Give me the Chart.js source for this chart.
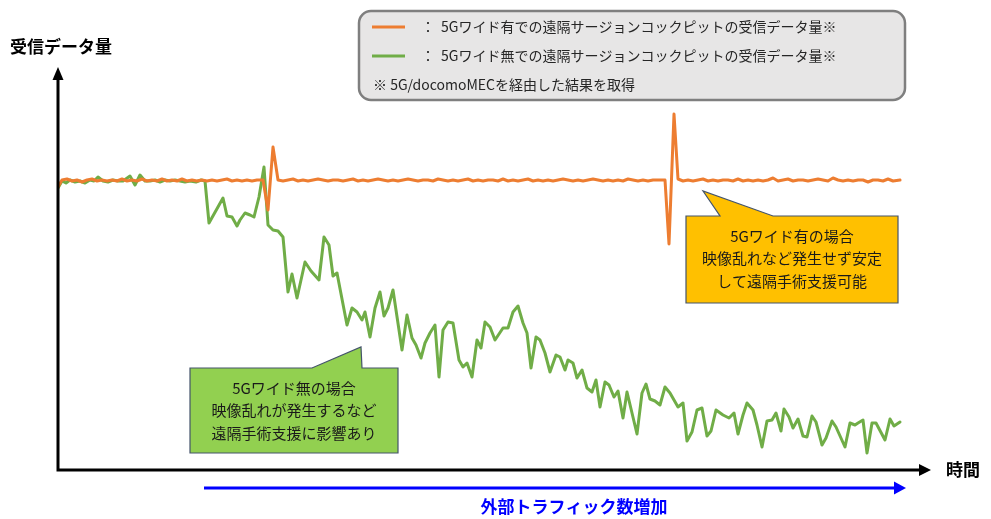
<!DOCTYPE html>
<html lang="ja">
<head>
<meta charset="UTF-8">
<title>受信データ量</title>
<script src="https://cdn.jsdelivr.net/npm/chart.js"></script>
<style>
  body { margin: 0; background: #fff; }
  #wrap { width: 991px; height: 519px; }
</style>
</head>
<body>
<div id="wrap"><canvas id="chart" width="991" height="519"></canvas></div>
<script>
// 時間(t) と 受信データ量(v) ... 図から読み取った値
var withWideT = [0,4,9,14,19,24,29,34,39,44,49,54,59,64,69,74,79,84,89,94,99,104,109,114,119,124,129,134,139,144,149,154,159,164,169,174,179,184,189,194,199,205,210,215,220,225,230,235,240,245,250,255,260,265,270,275,280,285,290,295,300,305,310,315,320,325,330,335,340,345,350,355,360,365,370,375,380,385,390,395,400,405,410,415,420,425,430,435,440,445,450,455,460,465,470,475,480,485,490,495,500,505,510,515,520,525,530,535,540,545,550,555,560,565,570,575,580,585,590,595,600,607,611,616,620,625,630,635,640,645,650,655,660,665,670,675,680,685,690,695,700,705,710,715,720,725,730,735,740,745,750,755,760,765,770,775,780,785,790,795,800,805,810,815,820,825,830,835,842];
var withWideV = [283,290,291,289,290,288,290,291,289,290,289,290,289,291,289,290,289,291,289,290,289,291,289,290,289,291,289,290,289,290,289,290,289,290,291,289,290,289,290,289,290,290,260,323,290,289,290,291,289,290,289,290,291,290,289,290,290,289,290,291,289,290,289,290,291,290,289,290,289,290,291,290,289,290,290,289,291,290,289,290,289,290,291,289,290,289,290,290,289,291,289,290,289,290,291,289,290,289,290,289,290,291,290,289,290,289,290,291,290,289,290,289,290,289,291,290,289,290,289,290,290,290,226,356,291,289,290,289,290,291,289,290,289,290,290,289,291,289,290,289,290,289,290,292,289,290,291,289,290,290,289,290,291,290,289,292,290,289,290,289,290,290,288,290,290,289,291,289,290];

var noWideT = [0,4,8,12,17,22,27,32,36,40,45,50,55,60,65,72,77,82,87,92,97,102,107,112,117,122,127,132,138,143,147,151,165,169,174,179,182,187,192,196,201,206,210,215,220,225,230,234,239,247,253,261,266,271,275,279,289,294,299,304,307,312,317,322,326,330,335,344,349,354,358,363,367,372,377,381,385,390,395,401,405,409,414,419,423,427,432,437,445,450,455,460,465,469,473,478,482,487,492,498,502,507,510,515,519,524,529,534,538,542,547,551,556,560,565,569,579,584,588,592,597,602,607,612,620,625,629,634,639,644,649,653,658,665,671,676,680,685,689,695,699,704,709,714,718,723,726,731,735,740,745,749,754,758,764,768,774,778,787,792,797,800,805,809,814,818,827,832,836,842];
var noWideV = [282,289,287,290,288,289,287,290,289,293,289,288,290,289,289,294,285,295,289,289,290,288,290,289,290,289,288,289,288,290,289,247,272,254,253,244,250,257,255,253,273,303,245,240,239,233,178,196,172,208,199,190,233,225,194,197,145,162,158,150,158,133,162,178,154,162,180,120,155,132,125,112,127,137,145,93,140,148,147,110,103,107,93,130,122,148,143,130,142,142,158,164,147,137,102,133,130,117,98,115,113,100,110,107,92,100,82,78,90,63,88,85,73,79,52,78,36,77,86,71,69,65,83,77,63,67,29,38,60,62,34,39,60,55,52,57,36,55,67,60,45,23,49,50,57,39,61,53,42,51,34,33,54,48,25,32,49,43,23,47,45,47,50,17,47,47,30,51,44,48];

var seriesNames = [
  '5Gワイド有での遠隔サージョンコックピットの受信データ量※',
  '5Gワイド無での遠隔サージョンコックピットの受信データ量※'
];
var seriesColors = ['#ed7d31', '#70ad47'];

function toPoints(ts, vs) {
  return ts.map(function (t, i) { return { x: t, y: vs[i] }; });
}

var FONT = '"Noto Sans CJK JP", "Noto Sans", sans-serif';

function arrowHead(ctx, x, y, dir, len, half, color) {
  ctx.fillStyle = color;
  ctx.beginPath();
  if (dir === 'up') {
    ctx.moveTo(x, y); ctx.lineTo(x - half, y + len); ctx.lineTo(x + half, y + len);
  } else {
    ctx.moveTo(x, y); ctx.lineTo(x - len, y - half); ctx.lineTo(x - len, y + half);
  }
  ctx.closePath();
  ctx.fill();
}

function callout(ctx, box, pointer, fill, lines) {
  ctx.save();
  ctx.beginPath();
  ctx.moveTo(box.x, box.y);
  ctx.lineTo(pointer[0], box.y);
  ctx.lineTo(pointer[2], pointer[3]);
  ctx.lineTo(pointer[1], box.y);
  ctx.lineTo(box.x + box.w, box.y);
  ctx.lineTo(box.x + box.w, box.y + box.h);
  ctx.lineTo(box.x, box.y + box.h);
  ctx.closePath();
  ctx.fillStyle = fill;
  ctx.fill();
  ctx.lineWidth = 1.2;
  ctx.strokeStyle = '#44546a';
  ctx.stroke();
  ctx.fillStyle = '#1a1a1a';
  ctx.font = '15px ' + FONT;
  ctx.textAlign = 'center';
  ctx.textBaseline = 'middle';
  lines.forEach(function (s, i) {
    ctx.fillText(s, box.x + box.w / 2, box.y + 20 + i * 22.5);
  });
  ctx.restore();
}

var decorations = {
  id: 'decorations',
  afterDraw: function (chart) {
    var ctx = chart.ctx;
    var a = chart.chartArea;
    ctx.save();

    // 軸
    ctx.strokeStyle = '#000';
    ctx.lineWidth = 3;
    ctx.beginPath();
    ctx.moveTo(a.left, a.bottom);
    ctx.lineTo(a.left, a.top + 10);
    ctx.moveTo(a.left - 1.5, a.bottom);
    ctx.lineTo(a.right - 10, a.bottom);
    ctx.stroke();
    arrowHead(ctx, a.left, a.top - 3, 'up', 13, 5.5, '#000');
    arrowHead(ctx, a.right + 1, a.bottom, 'right', 12, 6, '#000');

    ctx.fillStyle = '#000';
    ctx.font = 'bold 17px ' + FONT;
    ctx.textBaseline = 'middle';
    ctx.textAlign = 'left';
    ctx.fillText('受信データ量', 10, 47);
    ctx.fillText('時間', 946, a.bottom);

    // 外部トラフィック
    ctx.strokeStyle = '#0000ff';
    ctx.lineWidth = 3;
    ctx.beginPath();
    ctx.moveTo(204, 488);
    ctx.lineTo(896, 488);
    ctx.stroke();
    arrowHead(ctx, 906, 488, 'right', 12, 6.5, '#0000ff');
    ctx.fillStyle = '#0000ff';
    ctx.font = 'bold 17px ' + FONT;
    ctx.textAlign = 'center';
    ctx.fillText('外部トラフィック数増加', 574, 507);

    // 凡例
    ctx.beginPath();
    ctx.roundRect(359, 11, 546, 89, 12);
    ctx.fillStyle = '#e7e6e6';
    ctx.fill();
    ctx.lineWidth = 2.5;
    ctx.strokeStyle = '#7f7f7f';
    ctx.stroke();
    ctx.font = '14px ' + FONT;
    ctx.textAlign = 'left';
    seriesNames.forEach(function (name, i) {
      var y = 27 + i * 29;
      ctx.strokeStyle = seriesColors[i];
      ctx.lineWidth = 3;
      ctx.beginPath();
      ctx.moveTo(372, y);
      ctx.lineTo(405, y);
      ctx.stroke();
      ctx.fillStyle = '#262626';
      ctx.fillText('：', 421, y);
      ctx.fillText(name, 441, y);
    });
    ctx.fillText('※ 5G/docomoMECを経由した結果を取得', 373, 85);

    callout(ctx, { x: 686, y: 216, w: 212, h: 87 }, [720, 773, 703, 191], '#ffc000',
      ['5Gワイド有の場合', '映像乱れなど発生せず安定', 'して遠隔手術支援可能']);
    callout(ctx, { x: 190, y: 368, w: 208, h: 85 }, [312, 362, 361, 347], '#92d050',
      ['5Gワイド無の場合', '映像乱れが発生するなど', '遠隔手術支援に影響あり']);

    ctx.restore();
  }
};

new Chart(document.getElementById('chart'), {
  type: 'line',
  data: {
    datasets: [
      { label: seriesNames[0], data: toPoints(withWideT, withWideV), borderColor: seriesColors[0], order: 1 },
      { label: seriesNames[1], data: toPoints(noWideT, noWideV), borderColor: seriesColors[1], order: 2 }
    ]
  },
  options: {
    responsive: false,
    animation: false,
    layout: { padding: { left: 50, right: 61, top: 70, bottom: 41 } },
    elements: {
      point: { radius: 0 },
      line: { borderWidth: 3, tension: 0, borderJoinStyle: 'round', borderCapStyle: 'round' }
    },
    plugins: { legend: { display: false }, tooltip: { enabled: false } },
    scales: {
      x: { type: 'linear', min: 0, max: 872, ticks: { display: false }, grid: { display: false }, border: { display: false } },
      y: { min: 0, max: 400, ticks: { display: false }, grid: { display: false }, border: { display: false } }
    }
  },
  plugins: [decorations]
});
</script>
</body>
</html>
